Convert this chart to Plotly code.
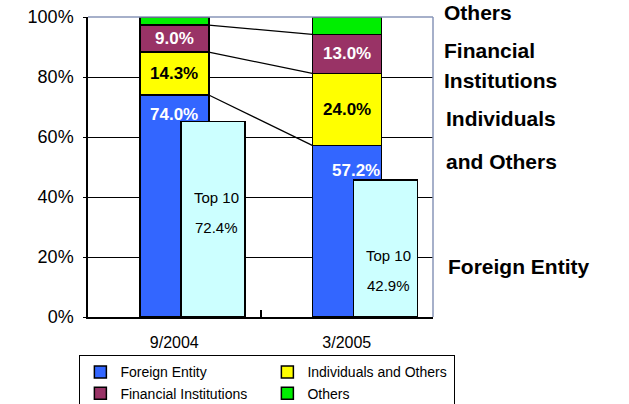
"""Shareholder composition: stacked bars with Top 10 overlay bars."""

import plotly.graph_objects as go

categories = ["9/2004", "3/2005"]
foreign = [74.0, 57.2]
individuals = [14.3, 24.0]
financial = [9.0, 13.0]
others = [2.7, 5.8]
top10_bar = [65.2, 45.7]
top10_labels = ["72.4%", "42.9%"]
y_ticks = [0, 20, 40, 60, 80, 100]

FONT = "Liberation Sans, Arial, sans-serif"
cat_x = [0.5, 1.5]
bar_w = 0.4
top_off = 0.225
top_w = 0.37

fig = go.Figure()

series = [
    ("Foreign Entity", foreign, "#3366ff"),
    ("Individuals and Others", individuals, "#ffff00"),
    ("Financial Institutions", financial, "#993366"),
    ("Others", others, "#00ee00"),
]
for name, values, color in series:
    fig.add_trace(go.Bar(
        x=cat_x, y=values, name=name, width=bar_w,
        marker=dict(color=color, line=dict(color="black", width=1.5)),
        hoverinfo="skip",
    ))

fig.add_trace(go.Bar(
    x=[c + top_off for c in cat_x], y=top10_bar, width=top_w, showlegend=False,
    marker=dict(color="#ccffff", line=dict(color="black", width=1.5)),
    hoverinfo="skip",
))

# connector lines between cumulative boundaries
levels = [
    [f, f + i, f + i + fi] for f, i, fi in zip(foreign, individuals, financial)
]
for k in range(3):
    fig.add_trace(go.Scatter(
        x=[cat_x[0] + bar_w / 2, cat_x[1] - bar_w / 2],
        y=[levels[0][k], levels[1][k]],
        mode="lines", line=dict(color="black", width=1.2),
        showlegend=False, hoverinfo="skip",
    ))

annotations = []
seg_font = dict(family=FONT, size=17, color="black")
for j, x in enumerate(cat_x):
    annotations.append(dict(
        x=x, y=foreign[j], text=f"<b>{foreign[j]:.1f}%</b>", showarrow=False,
        yanchor="middle", yshift=-19 - 6 * j, xshift=9 * j,
        font=dict(seg_font, color="white"),
    ))
    annotations.append(dict(
        x=x, y=foreign[j] + individuals[j] / 2, text=f"<b>{individuals[j]:.1f}%</b>",
        showarrow=False, font=seg_font,
    ))
    annotations.append(dict(
        x=x, y=foreign[j] + individuals[j] + financial[j] / 2,
        text=f"<b>{financial[j]:.1f}%</b>", showarrow=False,
        font=dict(seg_font, color="white"),
    ))
    annotations.append(dict(
        x=x + top_off, y=top10_bar[j], text="Top 10", showarrow=False,
        yanchor="middle", yshift=-76, xshift=3,
        font=dict(family=FONT, size=15, color="black"),
    ))
    annotations.append(dict(
        x=x + top_off, y=top10_bar[j], text=top10_labels[j], showarrow=False,
        yanchor="middle", yshift=-106, xshift=3,
        font=dict(family=FONT, size=15, color="black"),
    ))

side_labels = [
    ("Others", 1.015, 1.026),
    ("Financial", 0.887, 1.026),
    ("Institutions", 0.787, 1.026),
    ("Individuals", 0.66, 1.032),
    ("and Others", 0.52, 1.032),
    ("Foreign Entity", 0.17, 1.038),
]
for text, yy, xx in side_labels:
    annotations.append(dict(
        xref="paper", yref="paper", x=xx, y=yy, text=f"<b>{text}</b>",
        showarrow=False, xanchor="left", yanchor="middle",
        font=dict(family=FONT, size=21, color="black"),
    ))

fig.update_layout(
    width=629, height=404,
    margin=dict(l=88, r=196, t=17, b=87, autoexpand=False),
    barmode="stack",
    plot_bgcolor="white", paper_bgcolor="white",
    font=dict(family=FONT, color="black"),
    annotations=annotations,
    legend=dict(
        orientation="h", x=-0.025, y=-0.128, xanchor="left", yanchor="top",
        bordercolor="black", borderwidth=1, traceorder="normal",
        entrywidth=142, tracegroupgap=0,
        font=dict(family=FONT, size=14, color="black"),
    ),
    shapes=[
        dict(type="line", xref="paper", yref="paper", x0=0, x1=1, y0=1, y1=1,
             line=dict(color="#8896b8", width=1.5), layer="above"),
        dict(type="line", xref="paper", yref="paper", x0=1, x1=1, y0=0, y1=1,
             line=dict(color="#8896b8", width=1.5), layer="above"),
    ],
)
fig.update_xaxes(
    range=[0, 2], tickvals=cat_x, ticktext=categories, ticks="",
    showline=True, linecolor="black", linewidth=1.5, showgrid=False,
    zeroline=False, tickfont=dict(size=16), ticklabelstandoff=10,
    minor=dict(tickvals=[1], ticks="inside", ticklen=7, tickcolor="black",
               tickwidth=1.5),
)
fig.update_yaxes(
    range=[0, 100], tickvals=y_ticks, ticktext=[f"{t}%" for t in y_ticks],
    showline=True, linecolor="black", linewidth=1.5, ticks="outside",
    ticklen=3, tickcolor="black", showgrid=True, gridcolor="black",
    gridwidth=1, zeroline=False, tickfont=dict(size=18), ticklabelstandoff=6,
)

# drop the default page margin so the figure sits at the window corner
fig.write_html(
    "out.html",
    config={"displayModeBar": False},
    post_script="document.body.style.margin = '0';",
)
